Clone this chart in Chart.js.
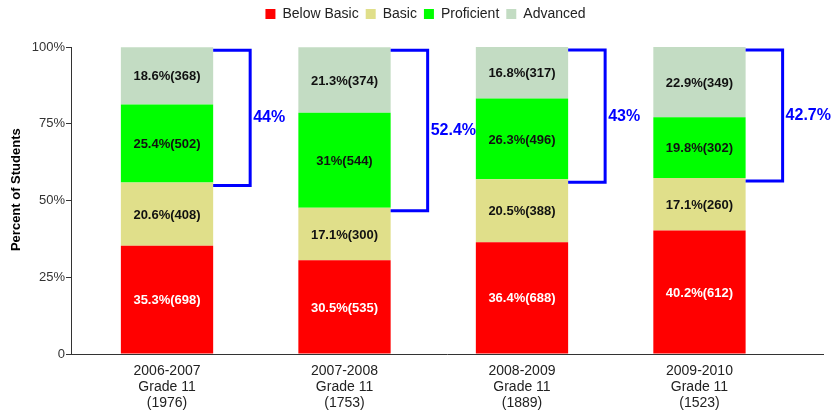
<!DOCTYPE html>
<html>
<head>
<meta charset="utf-8">
<script src="https://cdn.jsdelivr.net/npm/chart.js@4/dist/chart.umd.min.js"></script>
<style>
  body { margin: 0; background: #fff; }
  #wrap { width: 832px; height: 416px; }
</style>
</head>
<body>
<div id="wrap"><canvas id="grafico" width="832" height="416"></canvas></div>
<script>
// Datos
const years = ['2006-2007', '2007-2008', '2008-2009', '2009-2010']
const grades = ['Grade 11', 'Grade 11', 'Grade 11', 'Grade 11']
const totals = [1976, 1753, 1889, 1523]

const belowBasicPct = [35.3, 30.5, 36.4, 40.2]
const belowBasicN = [698, 535, 688, 612]
const basicPct = [20.6, 17.1, 20.5, 17.1]
const basicN = [408, 300, 388, 260]
const proficientPct = [25.4, 31, 26.3, 19.8]
const proficientN = [502, 544, 496, 302]
const advancedPct = [18.6, 21.3, 16.8, 22.9]
const advancedN = [368, 374, 317, 349]

// Proficient + Advanced (corchete azul)
const bracketPct = [44, 52.4, 43, 42.7]

const yTicks = [0, 25, 50, 75, 100]

const xLabels = years.map((y, i) => [y, grades[i], '(' + totals[i] + ')'])

function serie(label, pct, counts, color, textColor) {
    return {
        label,
        data: pct.map((v, i) => ({ x: i, y: v })),
        counts,
        textColor,
        backgroundColor: color,
        borderWidth: 0,
        categoryPercentage: 1,
        barPercentage: 0.52
    }
}

// Etiquetas dentro de las barras y corchetes
const etiquetasPlugin = {
    id: 'etiquetas',
    afterDatasetsDraw(chart) {
        const ctx = chart.ctx
        ctx.save()
        ctx.textAlign = 'center'
        ctx.textBaseline = 'middle'
        ctx.font = 'bold 13px "Liberation Sans", Arial, sans-serif'
        chart.data.datasets.forEach((ds, d) => {
            const meta = chart.getDatasetMeta(d)
            meta.data.forEach((bar, i) => {
                const txt = ds.data[i].y + '%(' + ds.counts[i] + ')'
                ctx.fillStyle = ds.textColor
                ctx.fillText(txt, bar.x, (bar.y + bar.base) / 2 + 1)
            })
        })

        // corchetes
        const metaBasic = chart.getDatasetMeta(1)
        const metaAdv = chart.getDatasetMeta(3)
        ctx.strokeStyle = '#0000ff'
        ctx.lineWidth = 3
        ctx.fillStyle = '#0000ff'
        ctx.font = 'bold 16px "Liberation Sans", Arial, sans-serif'
        ctx.textAlign = 'left'
        metaAdv.data.forEach((bar, i) => {
            const xR = bar.x + bar.width / 2
            const xV = xR + 37
            const yTop = bar.y + 3
            const yBot = metaBasic.data[i].y + 3
            ctx.beginPath()
            ctx.moveTo(xR, yTop)
            ctx.lineTo(xV, yTop)
            ctx.lineTo(xV, yBot)
            ctx.lineTo(xR, yBot)
            ctx.stroke()
            ctx.fillText(bracketPct[i] + '%', xV + 3, (yTop + yBot) / 2)
        })
        ctx.restore()
    }
}

const chart = new Chart(document.getElementById('grafico'), {
    type: 'bar',
    data: {
        datasets: [
            serie('Below Basic', belowBasicPct, belowBasicN, '#ff0000', '#ffffff'),
            serie('Basic', basicPct, basicN, '#e0df8a', '#111111'),
            serie('Proficient', proficientPct, proficientN, '#00ff00', '#111111'),
            serie('Advanced', advancedPct, advancedN, '#c3dcc3', '#111111')
        ]
    },
    plugins: [etiquetasPlugin],
    options: {
        responsive: false,
        animation: false,
        // margen izquierdo para centrar la leyenda como en el original
        layout: { padding: { left: 28, right: 9, top: 0, bottom: 0 } },
        plugins: {
            tooltip: { enabled: false },
            legend: {
                position: 'top',
                labels: {
                    boxWidth: 10,
                    boxHeight: 10,
                    padding: 7,
                    color: '#222',
                    font: { family: '"Liberation Sans", Arial, sans-serif', size: 14 }
                }
            },
            // espaciador debajo de la leyenda
            title: {
                display: true,
                text: '',
                weight: 500,
                font: { size: 1, lineHeight: 1 },
                padding: { top: 0, bottom: 15 }
            }
        },
        scales: {
            x: {
                type: 'linear',
                stacked: true,
                offset: false,
                min: -0.541,
                max: 3.696,
                afterFit: s => { s.height = 62 },
                afterBuildTicks: s => { s.ticks = years.map((_, i) => ({ value: i })) },
                grid: { display: false, drawTicks: false, offset: false },
                border: { display: true, color: '#333', width: 1 },
                ticks: {
                    autoSkip: false,
                    maxRotation: 0,
                    padding: 9,
                    color: '#222',
                    font: { family: '"Liberation Sans", Arial, sans-serif', size: 14, lineHeight: 1.15 },
                    callback: v => xLabels[v]
                }
            },
            y: {
                stacked: true,
                min: 0,
                max: 100,
                afterFit: s => { s.width = 43 },
                afterBuildTicks: s => { s.ticks = yTicks.map(v => ({ value: v })) },
                grid: { drawOnChartArea: false, drawTicks: true, tickLength: 5, color: '#333' },
                border: { display: true, color: '#333', width: 1 },
                ticks: {
                    padding: 1,
                    color: '#333',
                    font: { family: '"Liberation Sans", Arial, sans-serif', size: 13 },
                    callback: v => v === 0 ? '0' : v + '%'
                },
                title: {
                    display: true,
                    // los espacios iniciales suben el texto unos px, como en el original
                    text: '      Percent of Students',
                    color: '#000',
                    padding: { top: -19, bottom: 0 },
                    font: { family: '"Liberation Sans", Arial, sans-serif', size: 13, weight: 'bold' }
                }
            }
        }
    }
})
</script>
</body>
</html>
